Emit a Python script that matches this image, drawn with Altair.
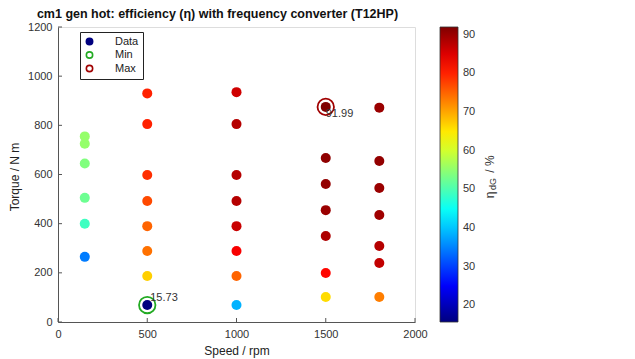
import altair as alt
import pandas as pd

# ---------------- data ----------------
speed = [150] * 6 + [500] * 8 + [1000] * 8 + [1500] * 7 + [1800] * 7
torque = [
    755, 725, 645, 505, 400, 265,
    930, 805, 598, 492, 390, 289, 187, 69,
    935, 805, 598, 492, 390, 289, 187, 69,
    875, 667, 561, 455, 350, 199, 102,
    872, 655, 545, 435, 309, 240, 102,
]
eff = [
    55.5, 55.5, 54.0, 52.5, 49.0, 34.5,
    80.0, 80.0, 79.0, 77.0, 75.0, 74.0, 67.0, 15.73,
    86.0, 88.0, 88.0, 88.0, 86.5, 83.0, 75.0, 38.6,
    91.99, 90.8, 90.5, 90.0, 88.6, 82.0, 66.0,
    90.0, 90.5, 90.0, 89.5, 88.0, 87.0, 73.0,
]
x_ticks = [0, 500, 1000, 1500, 2000]
y_ticks = [0, 200, 400, 600, 800, 1000, 1200]
cbar_ticks = [20, 30, 40, 50, 60, 70, 80, 90]
legend_kinds = ["Data", "Min", "Max"]
legend_colors = ["#00007F", "#22AA22", "#A00000"]
legend_fills = ["#00007F", "transparent", "transparent"]
jet_colors = ["#00007F", "#0000FF", "#00FFFF", "#FFFF00", "#FF0000", "#7F0000"]
jet_pos = [0, 0.125, 0.375, 0.625, 0.875, 1.0]

df = pd.DataFrame({"speed": speed, "torque": torque, "eff": eff})
vmin, vmax = min(eff), max(eff)
i_min, i_max = eff.index(vmin), eff.index(vmax)
stops = [vmin + p * (vmax - vmin) for p in jet_pos]

rings = pd.DataFrame({
    "speed": [speed[i_min], speed[i_max]],
    "torque": [torque[i_min], torque[i_max]],
    "kind": ["Min", "Max"],
})
lab_max = pd.DataFrame({"speed": [speed[i_max]], "torque": [torque[i_max]], "txt": [f"{vmax:.2f}"]})
lab_min = pd.DataFrame({"speed": [speed[i_min]], "torque": [torque[i_min]], "txt": [f"{vmin:.2f}"]})

W, H = 357, 295
FONT = "Liberation Sans"

xscale = alt.Scale(domain=[0, 2000], nice=False, zero=False)
yscale = alt.Scale(domain=[0, 1200], nice=False, zero=False)

x_axis = alt.Axis(values=x_ticks, format="d", tickSize=0, grid=False, domainColor="#555", domainWidth=1,
                  labelColor="#333", labelFontSize=11, labelPadding=6, labelFlush=False,
                  titleFontSize=12, titleFontWeight="normal", titleColor="#222",
                  titleX=W / 2, titleY=28, titleBaseline="middle")
y_axis = alt.Axis(values=y_ticks, format="d", tickSize=0, grid=False, domainColor="#555", domainWidth=1,
                  labelColor="#333", labelFontSize=11, labelPadding=6, labelFlush=False,
                  titleFontSize=12, titleFontWeight="normal", titleColor="#222",
                  titleX=-44, titleY=H / 2 + 2, titleBaseline="middle", titleAngle=270)

X = alt.X("speed:Q", scale=xscale, axis=x_axis, title="Speed / rpm")
Y = alt.Y("torque:Q", scale=yscale, axis=y_axis, title="Torque / N m")

dots = alt.Chart(df).mark_circle(size=100, opacity=1).encode(
    x=X, y=Y,
    color=alt.Color("eff:Q",
                    scale=alt.Scale(domain=stops, range=jet_colors, interpolate="rgb"),
                    title=None,
                    legend=alt.Legend(orient="none", legendX=382, legendY=0, direction="vertical",
                                      gradientLength=H, gradientThickness=18, values=cbar_ticks,
                                      labelFontSize=11, labelColor="#333", labelOffset=5,
                                      gradientStrokeColor="#333", gradientStrokeWidth=0.8)),
)

sym_legend = alt.Legend(orient="none", legendX=22, legendY=5, fillColor="white",
                        strokeColor="#222", padding=4, symbolSize=40, symbolStrokeWidth=1.6,
                        labelFontSize=11, labelColor="#222", rowPadding=0.5, labelOffset=20,
                        symbolType="circle")

ring_layer = alt.Chart(rings).mark_point(shape="circle", size=270, strokeWidth=1.8, opacity=1).encode(
    x="speed:Q", y="torque:Q",
    stroke=alt.Stroke("kind:N", scale=alt.Scale(domain=legend_kinds, range=legend_colors),
                      title=None, legend=sym_legend),
    fill=alt.Fill("kind:N", scale=alt.Scale(domain=legend_kinds, range=legend_fills),
                  title=None, legend=sym_legend),
)

txt_max = alt.Chart(lab_max).mark_text(align="left", baseline="middle", dx=0, dy=7,
                                       fontSize=11, color="#333").encode(
    x="speed:Q", y="torque:Q", text="txt:N")
txt_min = alt.Chart(lab_min).mark_text(align="left", baseline="middle", dx=3, dy=-7,
                                       fontSize=11, color="#333").encode(
    x="speed:Q", y="torque:Q", text="txt:N")

xt = alt.Chart(pd.DataFrame({"v": x_ticks})).mark_rule(color="#555", strokeWidth=1).encode(
    x="v:Q", y=alt.value(H), y2=alt.value(H - 4))
yt = alt.Chart(pd.DataFrame({"v": y_ticks})).mark_rule(color="#555", strokeWidth=1).encode(
    y="v:Q", x=alt.value(0), x2=alt.value(4))

cb1 = alt.Chart(pd.DataFrame({"t": ["η"]})).mark_text(angle=270, fontSize=12, color="#333",
                                                      align="center", baseline="middle").encode(
    text="t:N", x=alt.value(432), y=alt.value(168))
cb2 = alt.Chart(pd.DataFrame({"t": ["dG"]})).mark_text(angle=270, fontSize=9, color="#333",
                                                       align="center", baseline="middle").encode(
    text="t:N", x=alt.value(435), y=alt.value(157))
cb3 = alt.Chart(pd.DataFrame({"t": ["/ %"]})).mark_text(angle=270, fontSize=12, color="#333",
                                                        align="center", baseline="middle").encode(
    text="t:N", x=alt.value(432), y=alt.value(137))

chart = alt.layer(xt, yt, dots, ring_layer, txt_max, txt_min, cb1, cb2, cb3).properties(
    width=W, height=H,
    title=alt.TitleParams("cm1 gen hot: efficiency (η) with frequency converter (T12HP)",
                          anchor="middle", frame="group", dx=-19, offset=1, fontSize=12.5,
                          fontWeight="bold", color="#111", font=FONT),
    autosize=alt.AutoSizeParams(type="none"),
    padding={"left": 58, "top": 27, "right": 220, "bottom": 37},
).configure_view(stroke=None).configure(font=FONT).configure_axis(
    labelFont=FONT, titleFont=FONT).configure_legend(labelFont=FONT).configure_text(font=FONT)

chart.save("out.html", embed_options={"renderer": "svg", "actions": False})
